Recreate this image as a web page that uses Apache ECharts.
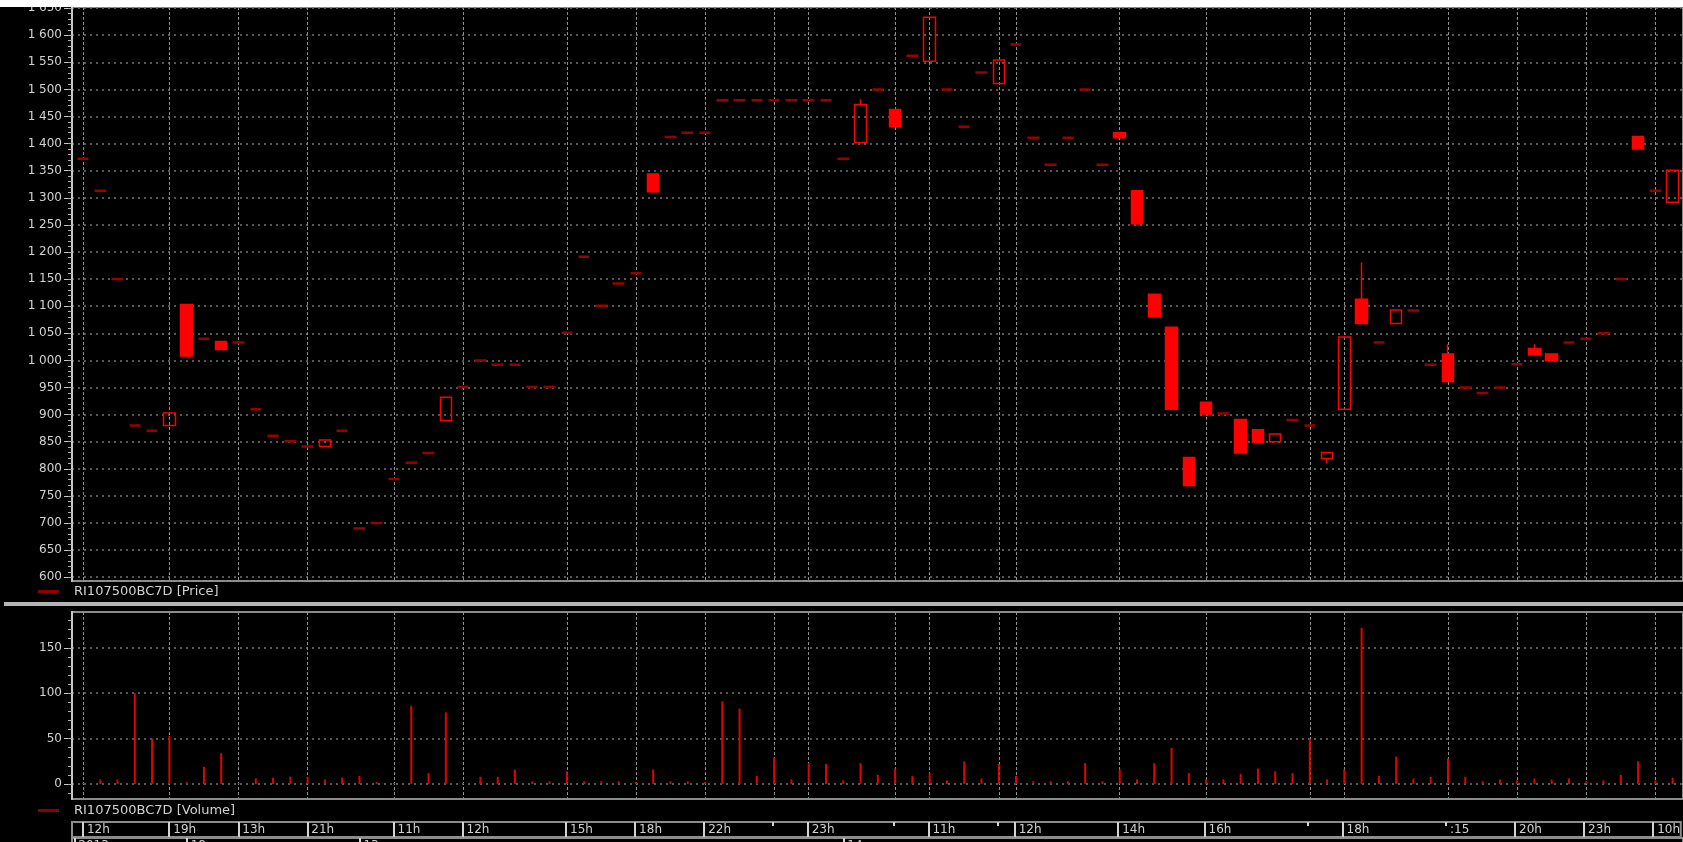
<!DOCTYPE html>
<html>
<head>
<meta charset="utf-8">
<script src="https://cdn.jsdelivr.net/npm/echarts@6/dist/echarts.min.js"></script>
<style>
  html, body { margin: 0; padding: 0; background: #000; }
  #chart { width: 1683px; height: 842px; }
</style>
</head>
<body>
<div id="chart"></div>
<script>
// one entry per bar
const opens = [1372, 1313, 1150, 880, 870, 880, 1103, 1040, 1035, 1033,
  910, 861, 851, 841, 841, 870, 690, 700, 781, 811,
  829, 889, 951, 1000, 992, 992, 951, 951, 1051, 1191,
  1101, 1142, 1161, 1344, 1412, 1420, 1420, 1480, 1480, 1480,
  1480, 1480, 1480, 1480, 1372, 1402, 1500, 1463, 1562, 1552,
  1500, 1431, 1531, 1511, 1583, 1411, 1361, 1411, 1500, 1361,
  1420, 1313, 1122, 1061, 821, 923, 902, 891, 872, 850,
  890, 880, 819, 910, 1113, 1033, 1068, 1092, 992, 1012,
  950, 940, 950, 993, 1022, 1012, 1033, 1040, 1050, 1150,
  1413, 1313, 1292];
const closes = [1372, 1313, 1150, 880, 870, 903, 1008, 1040, 1020, 1033,
  910, 861, 851, 841, 853, 870, 690, 700, 781, 811,
  829, 932, 951, 1000, 992, 992, 951, 951, 1051, 1191,
  1101, 1142, 1161, 1311, 1412, 1420, 1420, 1480, 1480, 1480,
  1480, 1480, 1480, 1480, 1372, 1472, 1500, 1431, 1562, 1633,
  1500, 1431, 1531, 1554, 1583, 1411, 1361, 1411, 1500, 1361,
  1411, 1252, 1081, 910, 769, 901, 902, 829, 849, 864,
  890, 880, 830, 1043, 1068, 1033, 1093, 1092, 992, 961,
  950, 940, 950, 993, 1010, 1000, 1033, 1040, 1050, 1150,
  1390, 1313, 1351];
const lows = [1372, 1313, 1150, 880, 870, 880, 1008, 1040, 1020, 1033,
  910, 861, 851, 841, 841, 870, 690, 700, 781, 811,
  829, 889, 951, 1000, 992, 992, 951, 951, 1051, 1191,
  1101, 1142, 1161, 1311, 1412, 1420, 1420, 1480, 1480, 1480,
  1480, 1480, 1480, 1480, 1372, 1402, 1500, 1431, 1562, 1552,
  1500, 1431, 1531, 1511, 1583, 1411, 1361, 1411, 1500, 1361,
  1411, 1252, 1081, 910, 769, 901, 902, 829, 849, 850,
  890, 880, 810, 910, 1068, 1033, 1068, 1092, 992, 961,
  950, 940, 950, 993, 1010, 1000, 1033, 1040, 1050, 1150,
  1390, 1313, 1292];
const highs = [1372, 1313, 1150, 880, 870, 903, 1103, 1040, 1035, 1033,
  910, 861, 851, 841, 853, 870, 690, 700, 781, 811,
  829, 932, 951, 1000, 992, 992, 951, 951, 1051, 1191,
  1101, 1142, 1161, 1344, 1412, 1420, 1420, 1480, 1480, 1480,
  1480, 1480, 1480, 1480, 1372, 1482, 1500, 1463, 1562, 1633,
  1500, 1431, 1531, 1554, 1583, 1411, 1361, 1411, 1500, 1361,
  1420, 1313, 1122, 1061, 821, 923, 902, 891, 872, 864,
  890, 880, 830, 1043, 1181, 1033, 1093, 1092, 992, 1030,
  950, 940, 950, 993, 1030, 1012, 1033, 1040, 1050, 1150,
  1413, 1313, 1351];
const volumes = [1, 5, 5, 100, 50, 53, 2, 19, 34, 1,
  6, 7, 8, 8, 5, 7, 9, 2, 1, 86,
  12, 79, 1, 8, 8, 16, 3, 3, 14, 3,
  3, 3, 2, 16, 3, 3, 2, 91, 83, 9,
  29, 5, 23, 22, 4, 23, 10, 17, 9, 12,
  4, 25, 6, 22, 9, 3, 3, 3, 23, 3,
  16, 5, 23, 40, 12, 5, 5, 11, 17, 14,
  12, 50, 5, 16, 172, 9, 30, 6, 8, 28,
  8, 3, 5, 4, 6, 5, 6, 3, 4, 10,
  25, 4, 7];

// bar positions where the time axis has a mark
const timeTickIdx = [0, 5, 9, 13, 18, 22, 28, 32, 36, 40, 42, 47, 49, 53, 54, 60, 65, 71, 73, 79, 83, 87, 91];
const timeTickText = ['12h', '19h', '13h', '21h', '11h', '12h', '15h', '18h', '22h', '', '23h', '', '11h', '', '12h', '14h', '16h', '', '18h', ':15', '20h', '23h', '10h'];
const dateTickIdx = [-0.5, 6, 16, 44];
const dateTickText = ['2013', '18', '13', '14'];

const priceTicks = [600, 650, 700, 750, 800, 850, 900, 950, 1000, 1050, 1100, 1150, 1200, 1250, 1300, 1350, 1400, 1450, 1500, 1550, 1600, 1650];
const volumeTicks = [0, 50, 100, 150];

const seriesName = 'RI107500BC7D';
const font = "'DejaVu Sans', sans-serif";
const labelColor = '#d2d2d2';
const red = '#ff0000';
const dojiRed = '#9a0000';

// the panes run a little past the right edge, so their right border is not seen
const xMin = -0.636, xMax = 92.6;

const minorPrice = [];
for (let v = 600; v <= 1650; v += 10) minorPrice.push(v);
const minorVolume = [];
for (let v = -10; v <= 180; v += 10) minorVolume.push(v);

const candleData = opens.map((o, i) => {
  const item = { value: [i, o, closes[i], lows[i], highs[i]] };
  if (o === closes[i]) {
    item.itemStyle = { color: dojiRed, color0: dojiRed, borderColor: dojiRed, borderColor0: dojiRed, borderColorDoji: dojiRed, borderWidth: 2.5 };
  }
  return item;
});
const volumeData = volumes.map((v, i) => [i, v]);

const timeLabels = {};
timeTickIdx.forEach((t, k) => { timeLabels[t] = timeTickText[k]; });
const longTicks = timeTickIdx.filter((t, k) => timeTickText[k] !== '' && timeTickText[k] !== ':15');
const shortTicks = timeTickIdx.filter((t, k) => timeTickText[k] === '' || timeTickText[k] === ':15');
const labelTicks = timeTickIdx.filter((t, k) => timeTickText[k] !== '');
const dateLabels = {};
dateTickIdx.forEach((t, k) => { dateLabels[t] = dateTickText[k]; });

function thousands(v) {
  const s = String(v);
  return s.length > 3 ? s.slice(0, s.length - 3) + ' ' + s.slice(-3) : s;
}

const dotted = { color: '#747474', width: 1.5, type: [2, 4] };
const vDash = { color: '#8e8e8e', width: 1, type: [3, 2] };
const paneBorder = '#8c8c8c';

function paneX(gridIndex) {
  return {
    type: 'value', gridIndex: gridIndex, min: xMin, max: xMax,
    axisLine: { show: false, onZero: false },
    axisTick: { show: false, customValues: timeTickIdx },
    axisLabel: { show: false },
    splitLine: { show: true, lineStyle: vDash }
  };
}
function hiddenY(gridIndex) {
  return { type: 'value', gridIndex: gridIndex, min: 0, max: 1, show: false, axisLine: { onZero: false }, splitLine: { show: false } };
}
function stripX(gridIndex, ticks, tickLen, labels, labelMap) {
  return {
    type: 'value', gridIndex: gridIndex, min: xMin, max: xMax, position: 'top',
    axisLine: { show: false, onZero: false },
    axisTick: { show: true, inside: true, length: tickLen, customValues: ticks, lineStyle: { color: labelColor, width: 2 } },
    axisLabel: labels ? {
      show: true, inside: true, margin: 2, align: 'left', padding: [0, 0, 0, 4],
      customValues: labels, formatter: v => labelMap[v] || '',
      color: labelColor, fontSize: 12, fontFamily: font
    } : { show: false },
    splitLine: { show: false }
  };
}
function pane(top, height) {
  return { left: 72, right: -2, top: top, height: height, show: true, borderColor: paneBorder, borderWidth: 2, backgroundColor: 'transparent' };
}

const chart = echarts.init(document.getElementById('chart'));
chart.setOption({
  backgroundColor: '#000',
  animation: false,
  grid: [pane(7, 574), pane(612, 187), pane(822, 15), pane(838, 20)],
  xAxis: [
    paneX(0),
    paneX(1),
    stripX(2, longTicks, 15, labelTicks, timeLabels),
    stripX(2, shortTicks, 4, null, null),
    stripX(3, dateTickIdx, 20, dateTickIdx, dateLabels)
  ],
  yAxis: [
    {
      type: 'value', gridIndex: 0, position: 'left', min: 593, max: 1652,
      axisLine: { show: true, onZero: false, lineStyle: { color: '#c8c8c8', width: 2 } },
      axisTick: { show: true, length: 8, customValues: priceTicks, lineStyle: { color: '#c8c8c8' } },
      axisLabel: { show: true, margin: 10, customValues: priceTicks, formatter: thousands, color: labelColor, fontSize: 12, fontFamily: font },
      splitLine: { show: true, lineStyle: dotted }
    },
    {
      type: 'value', gridIndex: 0, position: 'left', min: 593, max: 1652,
      axisLine: { show: false, onZero: false },
      axisTick: { show: true, length: 4, customValues: minorPrice, lineStyle: { color: '#b0b0b0' } },
      axisLabel: { show: false },
      splitLine: { show: false }
    },
    {
      type: 'value', gridIndex: 1, position: 'left', min: -16.5, max: 189.4,
      axisLine: { show: true, onZero: false, lineStyle: { color: '#c8c8c8', width: 2 } },
      axisTick: { show: true, length: 8, customValues: volumeTicks, lineStyle: { color: '#c8c8c8' } },
      axisLabel: { show: true, margin: 10, customValues: volumeTicks, color: labelColor, fontSize: 12, fontFamily: font },
      splitLine: { show: true, lineStyle: dotted }
    },
    {
      type: 'value', gridIndex: 1, position: 'left', min: -16.5, max: 189.4,
      axisLine: { show: false, onZero: false },
      axisTick: { show: true, length: 4, customValues: minorVolume, lineStyle: { color: '#b0b0b0' } },
      axisLabel: { show: false },
      splitLine: { show: false }
    },
    hiddenY(2),
    hiddenY(3)
  ],
  legend: [
    {
      data: [seriesName + ' [Price]'], left: 38, top: 585, padding: 0,
      icon: 'rect', itemWidth: 21, itemHeight: 3, selectedMode: false,
      itemStyle: { color: '#8b0000', borderWidth: 0 },
      textStyle: { color: labelColor, fontSize: 13, fontFamily: font, padding: [0, 0, 0, 10] }
    },
    {
      data: [seriesName + ' [Volume]'], left: 38, top: 804, padding: 0,
      icon: 'rect', itemWidth: 21, itemHeight: 3, selectedMode: false,
      itemStyle: { color: '#8b0000', borderWidth: 0 },
      textStyle: { color: labelColor, fontSize: 13, fontFamily: font, padding: [0, 0, 0, 10] }
    }
  ],
  graphic: [
    { type: 'rect', left: 0, top: 0, z: 100, shape: { width: 1683, height: 7 }, style: { fill: '#ffffff' } },
    { type: 'rect', left: 4, top: 602, z: 100, shape: { width: 1679, height: 4 }, style: { fill: '#b4b4b4' } }
  ],
  series: [
    {
      name: seriesName + ' [Price]',
      type: 'candlestick',
      xAxisIndex: 0, yAxisIndex: 0,
      barWidth: 12,
      clip: false,
      emphasis: { disabled: true },
      itemStyle: {
        color: 'rgba(0,0,0,0)', color0: red,
        borderColor: red, borderColor0: red, borderColorDoji: dojiRed,
        borderWidth: 1.5
      },
      data: candleData
    },
    {
      name: seriesName + ' [Volume]',
      type: 'bar',
      xAxisIndex: 1, yAxisIndex: 2,
      barWidth: 2,
      emphasis: { disabled: true },
      itemStyle: { color: '#e60000' },
      data: volumeData
    }
  ]
});
</script>
</body>
</html>
